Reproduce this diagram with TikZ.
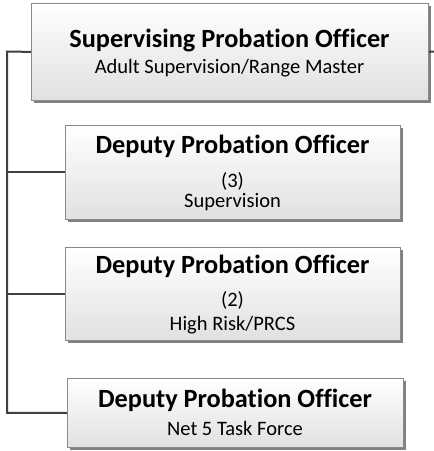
\documentclass[tikz,border=0pt]{standalone}
\usepackage{fontspec}
\setmainfont[Ligatures=NoCommon]{Carlito}
\usetikzlibrary{shadows}
\definecolor{linkgray}{HTML}{404040}
\definecolor{boxedge}{HTML}{8A8A8A}
\begin{document}
\begin{tikzpicture}[x=1pt,y=1pt,
  orgbox/.style={draw=boxedge, line width=0.8pt, rectangle, anchor=north west,
    top color=white, bottom color=black!12, inner sep=0pt,
    drop shadow={shadow xshift=3pt, shadow yshift=-3pt, fill=black!50, opacity=1}},
  headtext/.style={font=\bfseries\fontsize{26.3}{28}\selectfont, anchor=base, inner sep=0pt},
  subtext/.style={font=\fontsize{20.5}{22}\selectfont, anchor=base, inner sep=0pt},
  link/.style={draw=linkgray, line width=2pt}]
\useasboundingbox (0,0) rectangle (434,-451);

% boxes
\node[orgbox, minimum width=397pt, minimum height=97pt] (b1) at (31,-3) {};
\node[orgbox, minimum width=335pt, minimum height=94pt] (b2) at (65,-125) {};
\node[orgbox, minimum width=335pt, minimum height=93pt] (b3) at (65,-247) {};
\node[orgbox, minimum width=336pt, minimum height=69pt] (b4) at (67,-378) {};

% texts
\node[headtext] (t1) at (229.5,-47) {Supervising Probation Officer};
\node[subtext] (s1) at (229.5,-73) {Adult Supervision/Range Master};
\node[headtext] (t2) at (232.5,-153) {Deputy Probation Officer};
\node[subtext] (n2) at (232.5,-187) {(3)};
\node[subtext] (s2) at (232.5,-207) {Supervision};
\node[headtext] (t3) at (232.5,-273) {Deputy Probation Officer};
\node[subtext] (n3) at (232.5,-306) {(2)};
\node[subtext] (s3) at (232.5,-330) {High Risk/PRCS};
\node[headtext] (t4) at (235,-407) {Deputy Probation Officer};
\node[subtext] (s4) at (235,-435) {Net 5 Task Force};

% connectors
\coordinate (spine) at (7,-51.5);
\coordinate (outlet) at (434,-51.5);
\draw[link] (b1.west) -- (spine) |- (b4.west);
\draw[link] (spine) |- (b2.west);
\draw[link] (spine) |- (b3.west);
\draw[link] (b1.east) -- (outlet);
\end{tikzpicture}
\end{document}
